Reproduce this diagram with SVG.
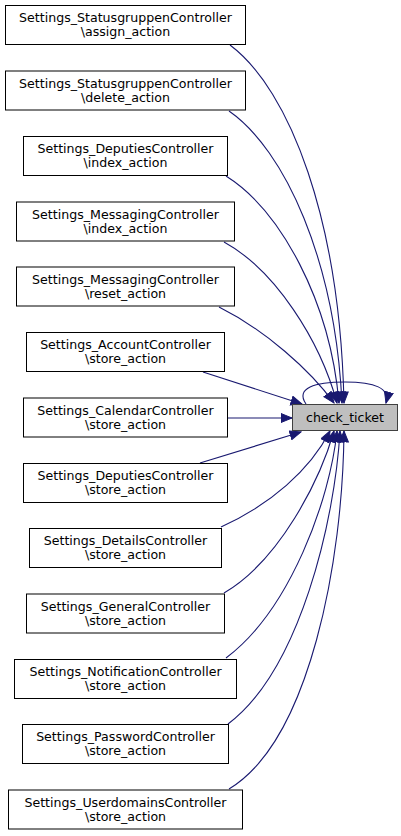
<svg xmlns="http://www.w3.org/2000/svg" width="401" height="836" viewBox="0 0 401 836">
<defs>
<marker id="ah" markerUnits="userSpaceOnUse" markerWidth="13" markerHeight="11" refX="11.5" refY="5" orient="auto">
<path d="M0.5,0.5 L11.5,5 L0.5,9.5 z" fill="#191970" stroke="#191970"/>
</marker>
<style>
.n rect{fill:#fff;stroke:#000;stroke-width:1}
.n text,.t text{font-family:"DejaVu Sans",sans-serif;font-size:12.6px;fill:#000;text-anchor:middle}
.e path{fill:none;stroke:#191970;stroke-width:1.1;marker-end:url(#ah)}
</style>
</defs>
<rect width="401" height="836" fill="#fff"/>
<g class="e" id="edges">
<path d="M230,45 C290,90 340,220 344,403"/>
<path d="M229,111 C285,150 335,260 342,403"/>
<path d="M226,176 C280,210 330,300 339,403"/>
<path d="M224,242 C275,270 320,340 337,403"/>
<path d="M219,307 C265,330 310,370 334,403"/>
<path d="M203,372 L302,404"/>
<path d="M227,418 L292,418"/>
<path d="M200,463 L301,432"/>
<path d="M221,527 C270,505 310,470 330,431"/>
<path d="M224,593 C280,560 320,480 334,431"/>
<path d="M226,658 C290,610 330,500 337,431"/>
<path d="M228,724 C300,670 335,520 340,431"/>
<path d="M229,789 C310,740 343,560 344,431"/>
<path d="M306,404 C295,388 315,382 345,382 C375,382 390,388 386,403"/>
</g>
<g class="n" id="n0"><rect x="5.5" y="5.5" width="240" height="39"/><text x="125.5" y="22">Settings_StatusgruppenController</text><text x="125.5" y="36">\assign_action</text></g>
<g class="n" id="n1"><rect x="5.5" y="71" width="240" height="39"/><text x="125.5" y="87.5">Settings_StatusgruppenController</text><text x="125.5" y="101.5">\delete_action</text></g>
<g class="n" id="n2"><rect x="23.5" y="136.5" width="204" height="39"/><text x="125.5" y="153">Settings_DeputiesController</text><text x="125.5" y="167">\index_action</text></g>
<g class="n" id="n3"><rect x="16.5" y="202" width="218" height="39"/><text x="125.5" y="218.5">Settings_MessagingController</text><text x="125.5" y="232.5">\index_action</text></g>
<g class="n" id="n4"><rect x="16.5" y="267" width="218" height="39"/><text x="125.5" y="283.5">Settings_MessagingController</text><text x="125.5" y="297.5">\reset_action</text></g>
<g class="n" id="n5"><rect x="26.5" y="332.5" width="198" height="39"/><text x="125.5" y="349">Settings_AccountController</text><text x="125.5" y="363">\store_action</text></g>
<g class="n" id="n6"><rect x="23.5" y="398" width="204" height="39"/><text x="125.5" y="414.5">Settings_CalendarController</text><text x="125.5" y="428.5">\store_action</text></g>
<g class="n" id="n7"><rect x="23.5" y="463.5" width="204" height="39"/><text x="125.5" y="480">Settings_DeputiesController</text><text x="125.5" y="494">\store_action</text></g>
<g class="n" id="n8"><rect x="29.5" y="528.5" width="192" height="39"/><text x="125.5" y="545">Settings_DetailsController</text><text x="125.5" y="559">\store_action</text></g>
<g class="n" id="n9"><rect x="26.5" y="594" width="198" height="39"/><text x="125.5" y="610.5">Settings_GeneralController</text><text x="125.5" y="624.5">\store_action</text></g>
<g class="n" id="n10"><rect x="14.5" y="659.5" width="222" height="39"/><text x="125.5" y="676">Settings_NotificationController</text><text x="125.5" y="690">\store_action</text></g>
<g class="n" id="n11"><rect x="22.5" y="724.5" width="206" height="39"/><text x="125.5" y="741">Settings_PasswordController</text><text x="125.5" y="755">\store_action</text></g>
<g class="n" id="n12"><rect x="8.5" y="790" width="234" height="39"/><text x="125.5" y="806.5">Settings_UserdomainsController</text><text x="125.5" y="820.5">\store_action</text></g>
<g class="t" id="check_ticket"><rect x="292.5" y="404.5" width="105" height="26" fill="#bfbfbf" stroke="#404040"/><text x="345" y="422">check_ticket</text></g>
</svg>
